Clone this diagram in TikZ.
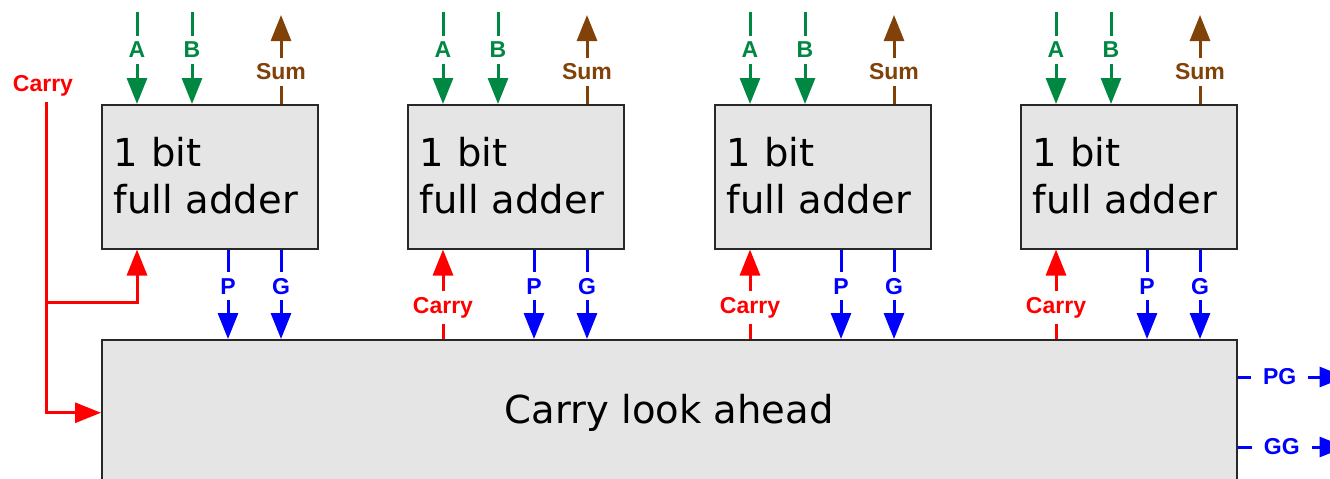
\documentclass[tikz,border=0pt]{standalone}
\usepackage{fontspec}
\setmainfont{DejaVu Sans}
\newfontfamily\lblfont{Liberation Sans}
\usetikzlibrary{arrows.meta}
\definecolor{sgreen}{RGB}{0,136,66}
\definecolor{sbrown}{RGB}{128,66,8}
\definecolor{boxgray}{RGB}{229,229,229}
\definecolor{boxline}{RGB}{40,40,40}
\begin{document}
\begin{tikzpicture}[x=1pt,y=-1pt,
  box/.style={draw=boxline, fill=boxgray, line width=1.5pt, inner sep=0pt},
  adder/.style={box, minimum width=216pt, minimum height=144pt, anchor=north west,
    text width=192pt, align=left, font=\fontsize{38.5}{47}\selectfont},
  sig/.style={line width=3pt, -{Triangle[length=26pt,width=20pt]}},
  lbl/.style={font=\lblfont\bfseries\fontsize{23}{23}\selectfont, fill=white, inner xsep=3pt, inner ysep=6pt},
  hlbl/.style={lbl, inner xsep=12pt, inner ysep=3pt}]
\clip (0,0) rectangle (1330,479);
% adders
\foreach \i/\x in {1/101,2/407,3/714,4/1020}{
  \node[adder] (fa\i) at (\x,104) {\raisebox{3pt}{1 bit}\\\raisebox{3pt}{full adder}};
}
% carry look ahead
\node[box, minimum width=1135pt, minimum height=146pt, anchor=north west,
  font=\fontsize{38.5}{47}\selectfont] (cla) at (101,339) {Carry look ahead};
% signals per adder
\foreach \i in {1,2,3,4}{
  \coordinate (ain\i) at ([shift={(36pt,92pt)}]fa\i.north west);
  \coordinate (bin\i) at ([shift={(91pt,92pt)}]fa\i.north west);
  \coordinate (sout\i) at ([shift={(180pt,89pt)}]fa\i.north west);
  \draw[sig,sgreen] (ain\i) -- node[lbl,text=sgreen,pos=0.41]{A} ([xshift=36pt]fa\i.north west);
  \draw[sig,sgreen] (bin\i) -- node[lbl,text=sgreen,pos=0.41]{B} ([xshift=91pt]fa\i.north west);
  \draw[sig,sbrown] ([xshift=180pt]fa\i.north west) -- node[lbl,text=sbrown,pos=0.36]{Sum} (sout\i);
  \coordinate (p\i) at ([xshift=127pt]fa\i.south west);
  \coordinate (g\i) at ([xshift=180pt]fa\i.south west);
  \coordinate (c\i) at ([xshift=36pt]fa\i.south west);
  \draw[sig,blue] (p\i) -- node[lbl,text=blue,pos=0.41]{P} (p\i |- cla.north);
  \draw[sig,blue] (g\i) -- node[lbl,text=blue,pos=0.41]{G} (g\i |- cla.north);
}
\foreach \i in {2,3,4}{
  \draw[sig,red] (c\i |- cla.north) -- node[lbl,text=red,pos=0.35]{Carry} (c\i);
}
% carry in
\node[lbl,text=red,inner ysep=3pt] (cl) at (43,86) {Carry};
\coordinate (cin) at (46,102);
\coordinate (cj) at (46,302);
\draw[sig,red] (cin) |- (cla.west);
\draw[sig,red] (cj) -| (c1);
% group outputs
\coordinate (pgo) at ([yshift=-38pt]cla.north east);
\coordinate (ggo) at ([yshift=-108pt]cla.north east);
\coordinate (pgend) at ([xshift=108pt]pgo);
\coordinate (ggend) at ([xshift=108pt]ggo);
\draw[sig,blue] (pgo) -- node[hlbl,text=blue,pos=0.39]{PG} (pgend);
\draw[sig,blue] (ggo) -- node[hlbl,text=blue,pos=0.41]{GG} (ggend);
\end{tikzpicture}
\end{document}
